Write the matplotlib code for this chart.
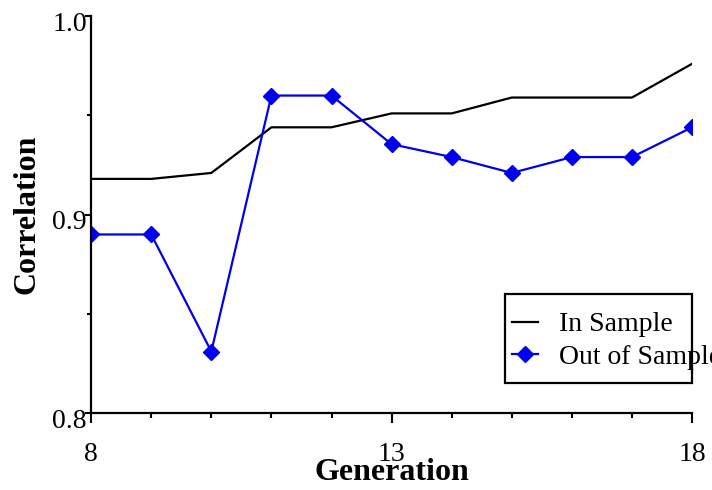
import matplotlib.pyplot as plt
import matplotlib.transforms as mtransforms
from matplotlib.ticker import MultipleLocator, FixedLocator
from matplotlib.patches import Rectangle

generation = [8, 9, 10, 11, 12, 13, 14, 15, 16, 17, 18]
in_sample = [0.918, 0.918, 0.921, 0.944, 0.944, 0.951, 0.951, 0.959, 0.959, 0.959, 0.976]
out_sample = [0.890, 0.890, 0.831, 0.960, 0.960, 0.9355, 0.929, 0.921, 0.929, 0.929, 0.944]

plt.rcParams['font.family'] = ['Liberation Serif', 'DejaVu Serif']

fig = plt.figure(figsize=(7.12, 4.9), dpi=100)
ax = fig.add_axes([0.128, 0.157, 0.844, 0.810])

ax.plot(generation, in_sample, color='black', lw=1.6, label='In Sample')
ax.plot(generation, out_sample, color='#0000ee', lw=1.6, marker='D',
        markersize=8, label='Out of Sample')

ax.set_xlim(8, 18)
ax.set_ylim(0.8, 1.0)
ax.xaxis.set_major_locator(FixedLocator([8, 13, 18]))
ax.xaxis.set_minor_locator(MultipleLocator(1))
ax.yaxis.set_major_locator(FixedLocator([0.8, 0.9, 1.0]))
ax.yaxis.set_minor_locator(FixedLocator([0.85, 0.95]))
ax.set_xticklabels(['8', '13', '18'])
ax.set_yticklabels(['0.8', '0.9', '1.0'])

for s in ['top', 'right']:
    ax.spines[s].set_visible(False)
for s in ['left', 'bottom']:
    ax.spines[s].set_linewidth(1.6)

ax.tick_params(axis='x', which='major', direction='out', length=7, width=1.5,
               pad=14, labelsize=20)
ax.tick_params(axis='x', which='minor', direction='out', length=3.5, width=1.5)
ax.tick_params(axis='y', which='major', direction='out', length=4, width=1.5,
               pad=-1, labelsize=20)
ax.tick_params(axis='y', which='minor', direction='out', length=3, width=1.5)

# y tick labels sit a little below their ticks in the original
shift = mtransforms.ScaledTranslation(0, -5 / 100, fig.dpi_scale_trans)
for lab in ax.get_yticklabels():
    lab.set_transform(lab.get_transform() + shift)

ax.set_xlabel('Generation', fontsize=23, fontweight='bold', labelpad=-7)
ax.set_ylabel('Correlation', fontsize=23, fontweight='bold', labelpad=8)

# legend frame drawn by hand so the long label can run past it
ax.add_patch(Rectangle((0.689, 0.076), 0.311, 0.223, transform=ax.transAxes,
                       fill=False, edgecolor='black', lw=1.6, clip_on=False,
                       zorder=5))
leg = ax.legend(loc='upper left', bbox_to_anchor=(0.700, 0.255),
                fontsize=20, frameon=False, borderaxespad=0, borderpad=0,
                handlelength=0.95, handletextpad=0.75, labelspacing=0.25)

fig.savefig('out.png', dpi=100)
